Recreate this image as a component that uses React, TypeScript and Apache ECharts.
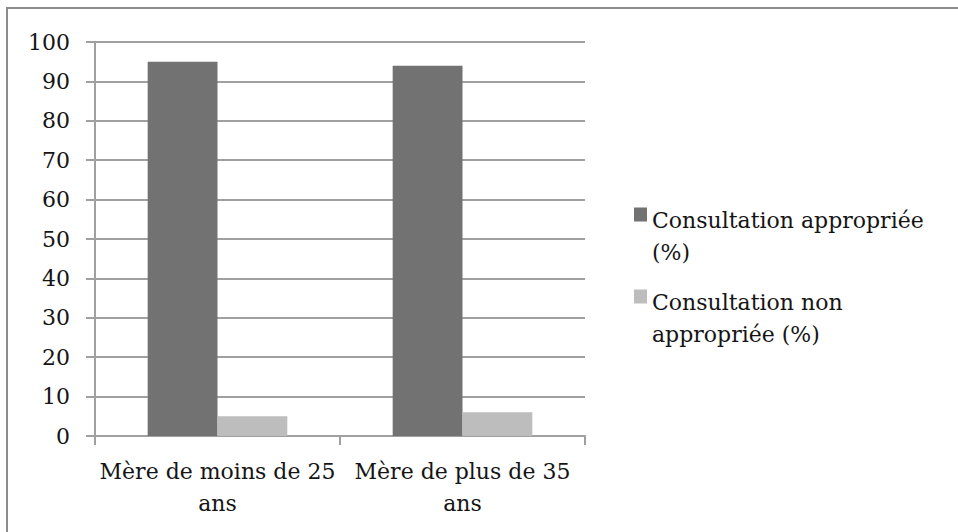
import React, { useEffect, useRef } from "react";
import * as echarts from "echarts";

const categories = ["Mère de moins de 25\nans", "Mère de plus de 35\nans"];
const seriesNames = ["Consultation appropriée (%)", "Consultation non appropriée (%)"];
const legendLabels = ["Consultation appropriée\n(%)", "Consultation non\nappropriée (%)"];
const appropriee = [95, 94];
const nonAppropriee = [5, 6];
const colors = ["#727272", "#bdbdbd"];

const FONT = "DejaVu Serif";
const TEXT = "#151515";
const AXIS = "#a0a0a0";

export default function App() {
  const ref = useRef<HTMLDivElement>(null);
  useEffect(() => {
    if (!ref.current) return;
    const chart = echarts.init(ref.current, null, { renderer: "svg" });
    chart.setOption({
      animation: false,
      backgroundColor: "#ffffff",
      textStyle: { fontFamily: FONT, color: TEXT },
      graphic: [
        {
          type: "rect",
          shape: { x: 7, y: 8, width: 960, height: 540 },
          style: { fill: "none", stroke: "#8c8c8c", lineWidth: 2 },
          z: 100,
          silent: true,
        },
      ],
      grid: { left: 95, right: 373, top: 42, bottom: 96, containLabel: false },
      legend: {
        orient: "vertical",
        left: 634,
        top: 204,
        padding: 0,
        itemWidth: 13,
        itemHeight: 57,
        itemGap: 18,
        itemTextGap: 10,
        icon: "path://M0,0L13,0L13,14L0,14Z M0,57L0.001,57L0,57Z",
        data: seriesNames,
        formatter: (name: string) => legendLabels[seriesNames.indexOf(name)],
        textStyle: { fontFamily: FONT, fontSize: 22, color: TEXT, lineHeight: 32 },
      },
      xAxis: {
        type: "category",
        data: categories,
        axisLine: { show: true, lineStyle: { color: AXIS, width: 2 } },
        axisTick: { show: true, length: 9, lineStyle: { color: AXIS, width: 2 } },
        axisLabel: {
          fontFamily: FONT,
          fontSize: 22,
          color: TEXT,
          lineHeight: 32,
          margin: 19,
          interval: 0,
        },
        splitLine: { show: false },
      },
      yAxis: {
        type: "value",
        min: 0,
        max: 100,
        interval: 10,
        axisLine: { show: true, lineStyle: { color: AXIS, width: 2 } },
        axisTick: { show: true, length: 9, lineStyle: { color: AXIS, width: 2 } },
        axisLabel: { fontFamily: FONT, fontSize: 22, color: TEXT, margin: 25 },
        splitLine: { show: true, lineStyle: { color: AXIS, width: 2 } },
      },
      series: [
        {
          name: seriesNames[0],
          type: "bar",
          data: appropriee,
          itemStyle: { color: colors[0] },
          barGap: "0%",
          barCategoryGap: "43%",
        },
        {
          name: seriesNames[1],
          type: "bar",
          data: nonAppropriee,
          itemStyle: { color: colors[1] },
          barGap: "0%",
          barCategoryGap: "43%",
        },
      ],
    });
    return () => chart.dispose();
  }, []);
  return (
    <div
      ref={ref}
      style={{ position: "fixed", left: 0, top: 0, width: 958, height: 532, background: "#fff" }}
    />
  );
}
